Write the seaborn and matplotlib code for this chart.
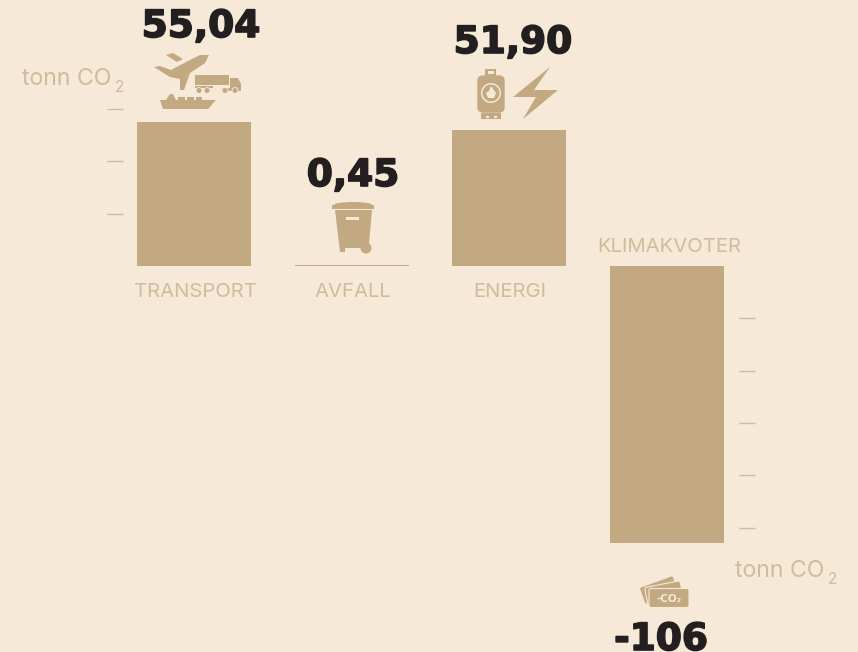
import matplotlib
matplotlib.use("Agg")
import matplotlib.pyplot as plt
import matplotlib.patheffects as pe
from matplotlib.patches import Polygon, Circle, Rectangle, FancyBboxPatch, Ellipse
from matplotlib.transforms import Affine2D
import pandas as pd
import seaborn as sns

categories = ["TRANSPORT", "AVFALL", "ENERGI", "KLIMAKVOTER"]
values = [55.04, 0.45, 51.90, -106]
value_labels = ["55,04", "0,45", "51,90", "-106"]
left_ticks = [20, 40, 60]
right_ticks = [-20, -40, -60, -80, -100]

BG = "#F6E9D8"
TAN = "#C2A982"
LABEL = "#D0BC9C"
DARK = "#231F20"
W, H = 858, 652

sns.set_theme(style="white", rc={"figure.facecolor": BG, "axes.facecolor": BG})
plt.rcParams["font.family"] = ["Inter", "DejaVu Sans"]

fig = plt.figure(figsize=(W / 100, H / 100), dpi=100, facecolor=BG)
ax = fig.add_axes([0, 0, 1, 1])
df = pd.DataFrame({"cat": categories, "val": values})
sns.barplot(data=df, x="cat", y="val", color=TAN, saturation=1, width=0.724, ax=ax,
            linewidth=0, edgecolor="none")

SY = 2.616
SX = 157.6
ax.set_ylim(-(H - 266) / SY, 266 / SY)
ax.set_xlim(-194 / SX, (W - 194) / SX)
ax.axis("off")

# pixel coordinate helpers
T = Affine2D().scale(1 / W, -1 / H).translate(0, 1) + fig.transFigure
def poly(pts, c=TAN, z=5):
    fig.add_artist(Polygon(pts, closed=True, fc=c, ec="none", transform=T, zorder=z))
def rect(x, y, w, h, c=TAN, z=5):
    fig.add_artist(Rectangle((x, y), w, h, fc=c, ec="none", transform=T, zorder=z))
def circ(x, y, r, c=TAN, z=5):
    fig.add_artist(Circle((x, y), r, fc=c, ec="none", transform=T, zorder=z))
def text(x, y, s, **kw):
    fig.text(x / W, 1 - y / H, s, **kw)

# ticks
ax.hlines(left_ticks, (107 - 194) / SX, (123 - 194) / SX, color=LABEL, lw=1.0)
ax.hlines(right_ticks, (739 - 194) / SX, (755 - 194) / SX, color=LABEL, lw=1.0)

# category labels
lab = dict(color=LABEL, fontsize=14.6, ha="center", va="center")
text(195, 292, categories[0], **lab)
text(353, 292, categories[1], **lab)
text(510, 292, categories[2], **lab)
text(669, 247, categories[3], **lab)

# unit labels
unit = dict(color=LABEL, fontsize=16.6, ha="left", va="baseline")
text(22, 85, "tonn CO", **unit)
text(115, 92, "2", color=LABEL, fontsize=11, ha="left", va="baseline")
text(735, 577, "tonn CO", **unit)
text(828, 584, "2", color=LABEL, fontsize=11, ha="left", va="baseline")

# value labels
val = dict(color=DARK, fontsize=27, ha="center", va="baseline", family="DejaVu Sans", fontweight="bold",
           path_effects=[pe.withStroke(linewidth=1.2, foreground=DARK)])
text(201, 37, value_labels[0], **val)
text(353, 186, value_labels[1], **val)
text(513, 53, value_labels[2], **val)
text(661, 650, value_labels[3], **val)

# plane
poly([(209, 55), (205, 63), (190, 73), (184, 90), (180, 90), (180, 79), (170, 77), (154, 67), (160, 66),
      (171, 70), (190, 60), (200, 55)])
poly([(166, 55), (173, 53), (183, 59), (177, 62)])
# truck
rect(195, 75, 34, 10)
poly([(230, 78), (238, 78), (241, 84), (241, 91), (222, 91), (222, 88), (230, 88)])
rect(195, 86, 18, 2)
for x in [199, 207, 225, 235]:
    circ(x, 90.5, 3.4, BG, 6)
    circ(x, 90.5, 2.5, TAN, 7)
# ship
poly([(160, 100), (216, 100), (208, 109), (163, 109)])
rect(178, 97, 7, 3); rect(187, 97, 7, 3); rect(196, 97, 6, 3)
poly([(166, 100), (170, 94), (173, 94), (176, 100)])

# bin
fig.add_artist(Ellipse((353, 205), 38, 6, fc=TAN, ec="none", transform=T, zorder=5))
rect(332, 205, 42, 4)
poly([(335, 210), (372, 210), (369, 244), (362, 248), (345, 248), (345, 252), (340, 252)])
circ(366, 248, 5.5)
rect(346, 217, 13, 2.5, BG, 6)

# gas bottle
rect(485, 69, 11, 7)
rect(487.5, 71, 6, 3, BG, 6)
fig.add_artist(FancyBboxPatch((478, 76), 26, 36, boxstyle="round,pad=0,rounding_size=5",
                              fc=TAN, ec=TAN, lw=1.0, transform=T, zorder=5))
rect(481, 113, 20, 6)
rect(486, 116, 3, 2, BG, 6); rect(494, 116, 3, 2, BG, 6)
circ(491, 93, 10, BG, 6)
circ(491, 93, 8.5, TAN, 7)
poly([(491, 86), (496, 93), (494, 98), (488, 98), (486, 93), (489, 91)], BG, 8)
# lightning
poly([(550, 67), (534, 90), (558, 90), (523, 119), (536, 97), (513, 97)])

# permit cards
def card(cx, cy, w, h, ang, fc=TAN, z=5):
    t = Affine2D().rotate_deg_around(cx, cy, ang) + T
    fig.add_artist(FancyBboxPatch((cx - w / 2, cy - h / 2), w, h, boxstyle="round,pad=0,rounding_size=2",
                                  fc=fc, ec=BG, lw=0.8, transform=t, zorder=z))
card(659, 590, 36, 18, -20, z=5)
card(664, 593, 36, 18, -11, z=6)
card(669, 598, 40, 19, 0, z=7)
fig.text(669 / W, 1 - 598.5 / H, "-CO₂", color=BG, fontsize=7.5, fontweight="bold", ha="center", va="center",
         family="DejaVu Sans", zorder=8)

fig.savefig("out.png", dpi=100, facecolor=BG)
